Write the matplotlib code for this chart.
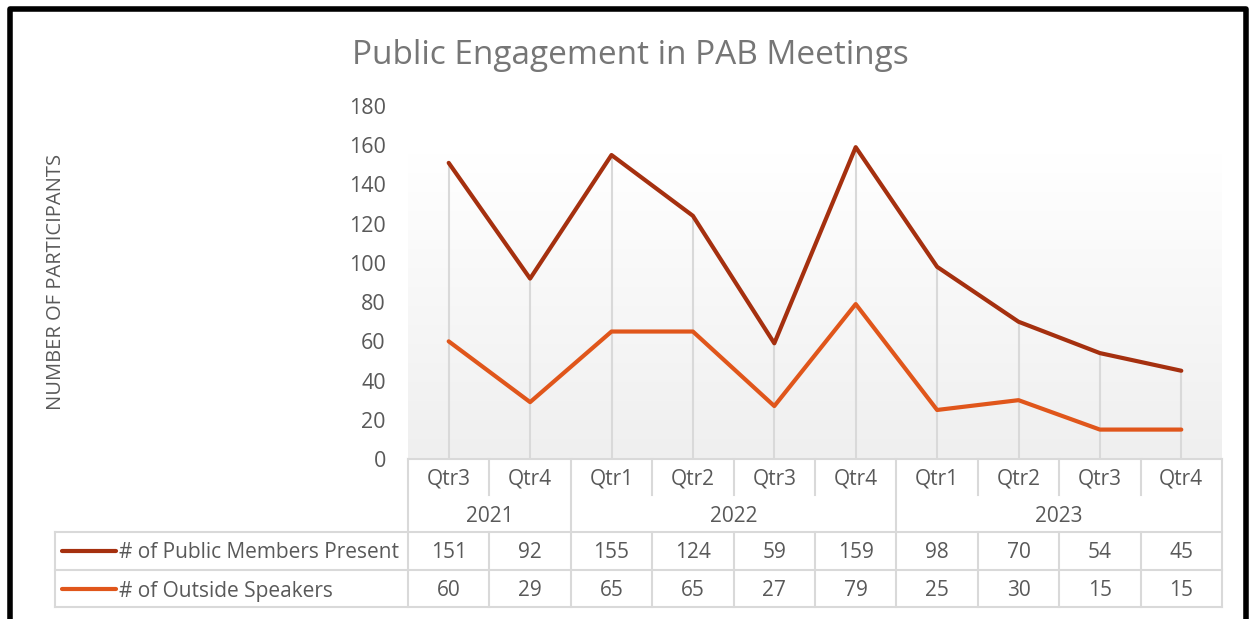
import matplotlib.pyplot as plt
import numpy as np
from matplotlib.colors import LinearSegmentedColormap
from matplotlib.lines import Line2D
from matplotlib.transforms import blended_transform_factory

plt.rcParams['font.family'] = ['Open Sans', 'DejaVu Sans']

# Données
quarters = ["Qtr3", "Qtr4", "Qtr1", "Qtr2", "Qtr3", "Qtr4", "Qtr1", "Qtr2", "Qtr3", "Qtr4"]
years = ["2021", "2022", "2023"]
year_spans = [(0, 2), (2, 6), (6, 10)]  # indices de début / fin des années
public_members = [151, 92, 155, 124, 59, 159, 98, 70, 54, 45]
outside_speakers = [60, 29, 65, 65, 27, 79, 25, 30, 15, 15]
series_names = ["# of Public Members Present", "# of Outside Speakers"]
colors = ["#A5300F", "#E0561B"]

W, H = 1249, 619
fig = plt.figure(figsize=(W / 100, H / 100), dpi=100)

def fy(py):
    # pixel (depuis le haut) -> fraction de figure
    return 1 - py / H

ax = fig.add_axes([408 / W, fy(459), (1222 - 408) / W, (459 - 106) / H])
x = np.arange(len(quarters))
ax.set_xlim(-0.5, len(quarters) - 0.5)
ax.set_ylim(0, 180)

# fond dégradé
grad = np.linspace(0, 1, 256).reshape(-1, 1)
cmap = LinearSegmentedColormap.from_list("g", ["#ffffff", "#efefef"])
ax.imshow(grad, extent=[-0.5, len(quarters) - 0.5, 0, 156], aspect="auto",
          cmap=cmap, origin="upper", zorder=0)

# lignes de chute
tops = np.maximum(public_members, outside_speakers)
ax.vlines(x, 0, tops, color="#d9d9d9", lw=1.5, zorder=1)

ax.plot(x, public_members, color=colors[0], lw=3, zorder=3, solid_capstyle="round")
ax.plot(x, outside_speakers, color=colors[1], lw=3, zorder=3, solid_capstyle="round")

for s in ax.spines.values():
    s.set_visible(False)
ax.set_xticks([])
ax.set_yticks(range(0, 181, 20))
ax.tick_params(axis="y", length=0, pad=16, labelsize=15.5, labelcolor="#595959")

fig.text(56 / W, fy(282), "NUMBER OF PARTICIPANTS", rotation=90, ha="center", va="center",
         fontsize=14.5, color="#595959")
fig.text(630 / W, fy(55), "Public Engagement in PAB Meetings", ha="center", va="center",
         fontsize=24, color="#767676")

# tableau de données
tr = blended_transform_factory(ax.transData, fig.transFigure)
gc = "#d9d9d9"
left_leg = -0.5 - (408 - 55) / ((1222 - 408) / len(quarters))

def hline(x0, x1, py):
    fig.add_artist(Line2D([x0, x1], [fy(py), fy(py)], transform=tr, color=gc, lw=1.5))

def vline(xx, p0, p1):
    fig.add_artist(Line2D([xx, xx], [fy(p0), fy(p1)], transform=tr, color=gc, lw=1.5))

hline(-0.5, 9.5, 459)
for py in (532, 570, 607):
    hline(left_leg, 9.5, py)
vline(left_leg, 532, 607)
bounds = [s for s, e in year_spans] + [year_spans[-1][1]]
for i in range(len(quarters) + 1):
    xx = i - 0.5
    if i in bounds:
        vline(xx, 459, 607)
    else:
        vline(xx, 459, 495)
        vline(xx, 532, 607)

tkw = dict(transform=tr, ha="center", va="center", fontsize=15, color="#595959")
for i, q in enumerate(quarters):
    fig.text(i, fy(479), q, **tkw)
    fig.text(i, fy(553), str(public_members[i]), **tkw)
    fig.text(i, fy(591), str(outside_speakers[i]), **tkw)
for (s, e), yr in zip(year_spans, years):
    fig.text((s + e - 1) / 2, fy(516), yr, **tkw)

for py, name, c in zip((551, 589), series_names, colors):
    fig.add_artist(Line2D([62 / W, 116 / W], [fy(py), fy(py)], color=c, lw=3,
                          solid_capstyle="round"))
    fig.text(119 / W, fy(py + 2), name, ha="left", va="center", fontsize=15, color="#595959")

# cadre noir
fig.add_artist(Line2D([10 / W, 10 / W, 1246 / W, 1246 / W], [0, fy(9), fy(9), 0],
                      color="black", lw=4))

plt.savefig("out.png", dpi=100)
